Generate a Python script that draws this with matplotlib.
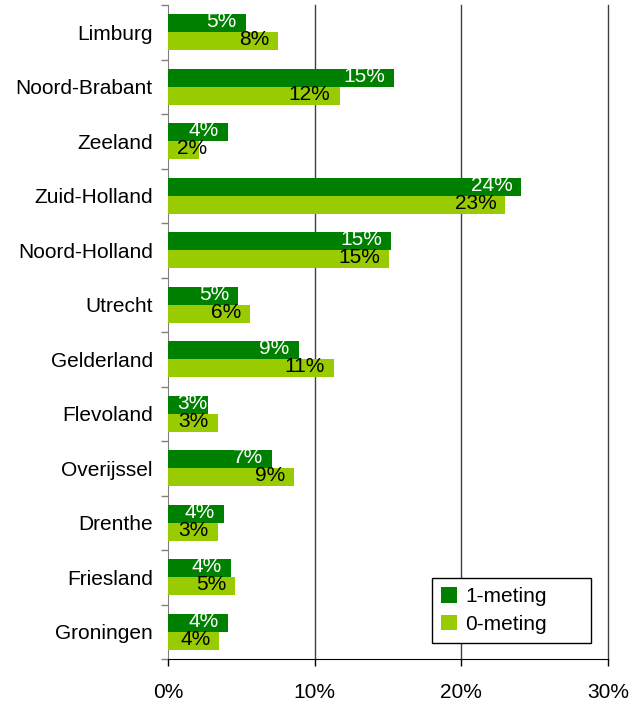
import numpy as np
import matplotlib
matplotlib.use("Agg")
import matplotlib.pyplot as plt
import matplotlib.transforms as mtransforms

plt.rcParams['font.family'] = ['Liberation Sans', 'DejaVu Sans']

# provinces, top to bottom as in the chart
provinces = ['Limburg', 'Noord-Brabant', 'Zeeland', 'Zuid-Holland', 'Noord-Holland',
             'Utrecht', 'Gelderland', 'Flevoland', 'Overijssel', 'Drenthe',
             'Friesland', 'Groningen']
meting1 = [5.3, 15.4, 4.1, 24.1, 15.2, 4.8, 8.9, 2.7, 7.1, 3.8, 4.3, 4.1]
meting0 = [7.5, 11.7, 2.1, 23.0, 15.1, 5.6, 11.3, 3.4, 8.6, 3.4, 4.6, 3.5]
xticks = [0, 10, 20, 30]

dark = '#008000'
light = '#99CC00'
fs = 15

fig = plt.figure(figsize=(6.33, 7.03), dpi=100)
ax = fig.add_axes([168 / 633, 1 - 659 / 703, 440 / 633, 654 / 703])

n = len(provinces)
y = np.arange(n)[::-1]  # Limburg on top
h = 1 / 3

b1 = ax.barh(y + h / 2, meting1, height=h, color=dark, label='1-meting', zorder=3)
b0 = ax.barh(y - h / 2, meting0, height=h, color=light, label='0-meting', zorder=3)

ax.set_xlim(0, 30)
ax.set_ylim(-0.5, n - 0.5)

ax.set_xticks(xticks)
ax.set_xticklabels([f'{t}%' for t in xticks], fontsize=fs)
ax.tick_params(axis='x', direction='out', length=5, width=1, color='black', pad=12)

ax.set_yticks(y)
ax.set_yticklabels(provinces, fontsize=fs)
ax.tick_params(axis='y', which='major', length=0, pad=11)
ax.set_yticks(np.arange(n + 1) - 0.5, minor=True)
ax.tick_params(axis='y', which='minor', direction='out', length=5, width=1, color='#808080')

for t in xticks[1:]:
    ax.axvline(t, color='#404040', lw=1, zorder=1, clip_on=False)

ax.spines['top'].set_visible(False)
ax.spines['right'].set_visible(False)
ax.spines['left'].set_color('#808080')
ax.spines['bottom'].set_color('black')

# value labels: right edge 9px inside bar end, but not closer than 9px to the axis
fig.canvas.draw()
renderer = fig.canvas.get_renderer()
axis_px = ax.transData.transform((0, 0))[0]


def add_labels(bars, vals, color):
    for bar, v in zip(bars, vals):
        yc = bar.get_y() + bar.get_height() / 2
        tr = mtransforms.offset_copy(ax.transData, fig=fig, x=-9, y=1.5, units='dots')
        txt = ax.text(v, yc, f'{round(v):.0f}%', color=color, fontsize=fs,
                      ha='right', va='center', transform=tr, zorder=4)
        ext = txt.get_window_extent(renderer)
        if ext.x0 < axis_px + 9:
            txt.set_transform(mtransforms.offset_copy(ax.transData, fig=fig, x=9, y=1.5, units='dots'))
            txt.set_x(0)
            txt.set_ha('left')


add_labels(b1, meting1, 'white')
add_labels(b0, meting0, 'black')

leg = ax.legend(loc='lower left', bbox_to_anchor=(432 / 633, 1 - 643 / 703, 159 / 633, 66 / 703),
                bbox_transform=fig.transFigure, mode='expand', borderaxespad=0,
                fontsize=fs, fancybox=False, edgecolor='black', framealpha=1,
                handlelength=0.75, handleheight=0.75, handletextpad=0.4, labelspacing=0.4,
                borderpad=0.45)
leg.get_frame().set_linewidth(1)

fig.savefig('out.png', dpi=100)
